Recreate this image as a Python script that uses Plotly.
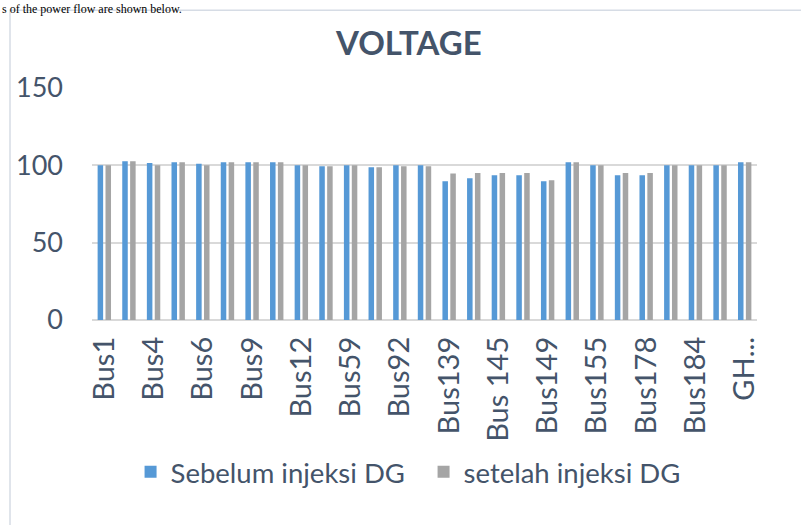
import plotly.graph_objects as go

# bus categories (only every other label is shown on the axis)
buses = [
    "Bus1", "Bus3", "Bus4", "Bus5", "Bus6", "Bus8", "Bus9", "Bus10", "Bus12",
    "Bus45", "Bus59", "Bus76", "Bus92", "Bus120", "Bus139", "Bus142", "Bus 145",
    "Bus147", "Bus149", "Bus152", "Bus155", "Bus170", "Bus178", "Bus181",
    "Bus184", "Bus190", "GH...",
]
shown_labels = [
    "Bus1", "Bus4", "Bus6", "Bus9", "Bus12", "Bus59", "Bus92", "Bus139",
    "Bus 145", "Bus149", "Bus155", "Bus178", "Bus184", "GH...",
]

sebelum = [
    100, 102.6, 101.5, 102, 101, 102, 102, 102, 100, 99.4, 100, 98.7, 100, 100,
    89.7, 91.7, 93.6, 93.6, 89.7, 102, 100, 93.6, 93.6, 100, 100, 100, 102,
]
setelah = [
    100, 102.6, 100, 102, 100, 102, 102, 102, 100, 99.4, 100, 98.7, 99.4, 99.4,
    94.7, 95.1, 95.1, 95.1, 90.4, 102, 100, 95.1, 95.1, 100, 100, 100, 102,
]

text_color = "#44546A"
grid_color = "#D9D9D9"

fig = go.Figure()

fig.add_trace(go.Bar(
    x=buses, y=sebelum, name="Sebelum injeksi DG",
    marker=dict(color="#5699D6", line=dict(width=0)),
))
fig.add_trace(go.Bar(
    x=buses, y=setelah, name="setelah injeksi DG",
    marker=dict(color="#A5A5A5", line=dict(width=0)),
))

fig.update_layout(
    width=801, height=525,
    margin=dict(l=92, r=44, t=88, b=205),
    paper_bgcolor="white",
    plot_bgcolor="white",
    barmode="group",
    bargap=0.36,
    bargroupgap=0.3,
    font=dict(family="Lato", color=text_color),
    showlegend=True,
    legend=dict(
        orientation="h", x=0.058, xanchor="left", y=-0.655, yanchor="middle",
        font=dict(size=27.5, color=text_color), itemwidth=30,
        entrywidth=248, entrywidthmode="pixels",
        traceorder="normal",
    ),
    xaxis=dict(
        type="category", automargin=False,
        tickmode="array", tickvals=shown_labels, ticktext=shown_labels,
        tickangle=-90, tickfont=dict(size=29, color=text_color),
        showgrid=False, showline=False, ticks="", ticklabelstandoff=10,
    ),
    yaxis=dict(
        range=[0, 150], dtick=50, automargin=False,
        tickfont=dict(size=27, color=text_color),
        showgrid=True, gridcolor=grid_color, gridwidth=1.5,
        zeroline=True, zerolinecolor=grid_color, zerolinewidth=1.5,
        showline=False, ticks="", ticklabelstandoff=28,
    ),
    shapes=[
        dict(type="rect", xref="paper", yref="paper",
             x0=-0.1233, x1=1.2, y0=-1.2, y1=1.335,
             line=dict(color="#D6DCE5", width=1.5), layer="below"),
    ],
    annotations=[
        dict(text="<b>VOLTAGE</b>", xref="paper", yref="paper",
             x=0.476, y=1.2, xanchor="center", yanchor="middle",
             showarrow=False, font=dict(size=33, color=text_color, family="Lato")),
        dict(text="s of the power flow are shown below.", xref="paper", yref="paper",
             x=-0.138, y=1.381, xanchor="left", yanchor="top",
             showarrow=False, font=dict(size=12, color="black", family="Liberation Serif")),
    ],
)

# the page's default body margin would shift the chart by 8px
fig.write_html(
    "out.html",
    config={"displayModeBar": False},
    post_script="document.body.style.margin='0';",
)
